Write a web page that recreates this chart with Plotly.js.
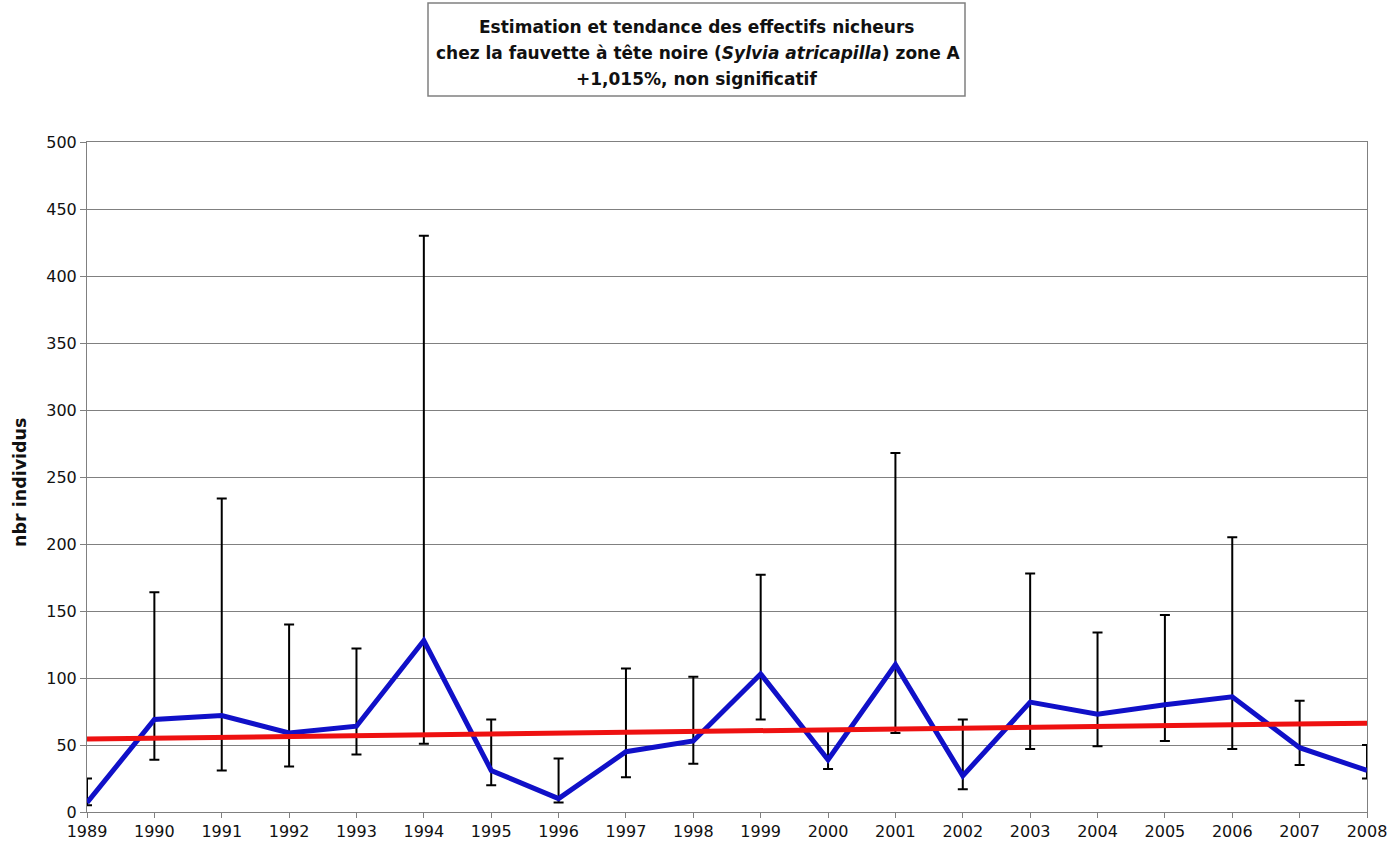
<!DOCTYPE html>
<html>
<head>
<meta charset="utf-8">
<script src="https://cdn.plot.ly/plotly-3.0.1.min.js"></script>
<style>
  html, body { margin: 0; padding: 0; background: #ffffff; }
  #chart { width: 1395px; height: 851px; }
</style>
</head>
<body>
<div id="chart"></div>
<script>
// Breeding blackcap counts, zone A, with confidence bounds and trend line
const years = [1989, 1990, 1991, 1992, 1993, 1994, 1995, 1996, 1997, 1998,
               1999, 2000, 2001, 2002, 2003, 2004, 2005, 2006, 2007, 2008];
const estimate = [7, 69, 72, 59, 64, 128, 31, 10, 45, 53,
                  103, 39, 110, 27, 82, 73, 80, 86, 48, 31];
const upperBound = [25, 164, 234, 140, 122, 430, 69, 40, 107, 101,
                    177, 61, 268, 69, 178, 134, 147, 205, 83, 50];
const lowerBound = [5, 39, 31, 34, 43, 51, 20, 7, 26, 36,
                    69, 32, 59, 17, 47, 49, 53, 47, 35, 25];
const trendYears = [1989, 2008];
const trendValues = [54.5, 66.3];
const yTicks = [0, 50, 100, 150, 200, 250, 300, 350, 400, 450, 500];

const errPlus = upperBound.map((u, i) => u - estimate[i]);
const errMinus = lowerBound.map((l, i) => estimate[i] - l);

const tickFont = { family: 'DejaVu Sans, Arial, sans-serif', size: 16, color: '#111111' };
const titleFont = { family: 'DejaVu Sans, Arial, sans-serif', size: 17, color: '#111111', weight: 'bold' };

const traces = [
  {
    x: years,
    y: estimate,
    type: 'scatter',
    mode: 'lines',
    line: { color: '#1010c8', width: 5 },
    error_y: {
      type: 'data',
      symmetric: false,
      array: errPlus,
      arrayminus: errMinus,
      color: '#000000',
      thickness: 2,
      width: 5
    },
    hoverinfo: 'x+y'
  },
  {
    x: trendYears,
    y: trendValues,
    type: 'scatter',
    mode: 'lines',
    line: { color: '#ee1111', width: 5 },
    hoverinfo: 'skip'
  }
];

const layout = {
  width: 1395,
  height: 851,
  paper_bgcolor: '#ffffff',
  plot_bgcolor: '#ffffff',
  showlegend: false,
  margin: { l: 87, r: 28, t: 142, b: 39, pad: 0 },
  xaxis: {
    range: [1989, 2008],
    tickmode: 'array',
    tickvals: years,
    ticktext: years.map(String),
    tickfont: tickFont,
    ticks: 'outside',
    ticklen: 5,
    tickcolor: '#808080',
    showline: true,
    linecolor: '#808080',
    linewidth: 1,
    mirror: true,
    showgrid: false,
    zeroline: false,
    fixedrange: true
  },
  yaxis: {
    range: [0, 500],
    tickmode: 'array',
    tickvals: yTicks,
    ticktext: yTicks.map(String),
    tickfont: tickFont,
    ticks: 'outside',
    ticklen: 6,
    tickcolor: '#808080',
    showline: true,
    linecolor: '#808080',
    linewidth: 1,
    mirror: true,
    showgrid: true,
    gridcolor: '#808080',
    gridwidth: 1,
    zeroline: false,
    fixedrange: true
  },
  shapes: [
    {
      type: 'rect', xref: 'paper', yref: 'paper',
      x0: (428 - 87) / 1280, x1: (965 - 87) / 1280,
      y0: (812 - 96) / 670, y1: (812 - 3) / 670,
      line: { color: '#808080', width: 1.5 },
      fillcolor: 'rgba(0,0,0,0)'
    }
  ],
  annotations: [
    {
      text: 'Estimation et tendance des effectifs nicheurs',
      xref: 'paper', yref: 'paper', x: (696 - 87) / 1280, y: (812 - 27) / 670,
      xanchor: 'center', yanchor: 'middle', showarrow: false, font: titleFont
    },
    {
      text: 'chez la fauvette à tête noire (<i>Sylvia atricapilla</i>) zone A',
      xref: 'paper', yref: 'paper', x: (698 - 87) / 1280, y: (812 - 53) / 670,
      xanchor: 'center', yanchor: 'middle', showarrow: false, font: titleFont
    },
    {
      text: '+1,015%, non significatif',
      xref: 'paper', yref: 'paper', x: (696 - 87) / 1280, y: (812 - 79) / 670,
      xanchor: 'center', yanchor: 'middle', showarrow: false, font: titleFont
    },
    {
      text: 'nbr individus',
      xref: 'paper', yref: 'paper', x: (20 - 87) / 1280, y: (812 - 482) / 670,
      xanchor: 'center', yanchor: 'middle', textangle: -90, showarrow: false,
      font: { family: 'DejaVu Sans, Arial, sans-serif', size: 17.5, color: '#111111', weight: 'bold' }
    }
  ]
};

Plotly.newPlot('chart', traces, layout, { displayModeBar: false, staticPlot: true });
</script>
</body>
</html>
